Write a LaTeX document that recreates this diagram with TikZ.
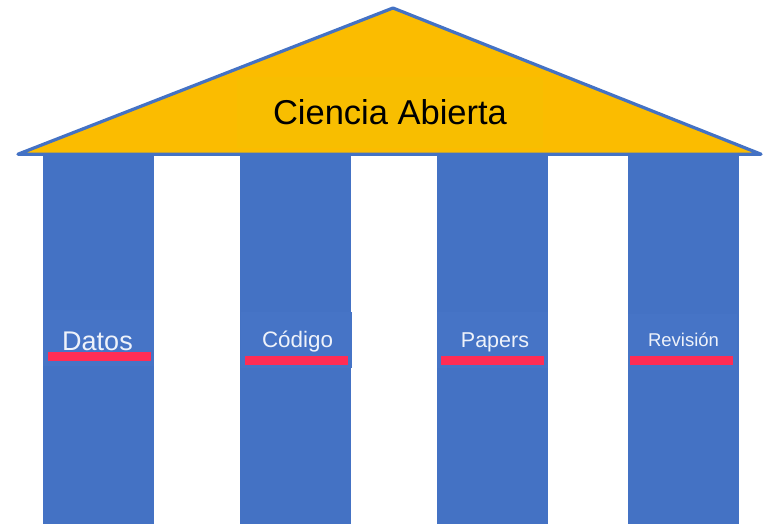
\documentclass[tikz,border=0pt]{standalone}
\usepackage{fontspec}
\setmainfont{Liberation Sans}
\definecolor{colblue}{HTML}{4472C4}
\definecolor{boxblue}{HTML}{4674C6}
\definecolor{roofyellow}{HTML}{FBBC00}
\definecolor{textyellow}{HTML}{F8BE00}
\definecolor{barred}{HTML}{FF2D55}
\definecolor{labwhite}{HTML}{EEF2FA}
\begin{document}
\begin{tikzpicture}[x=1pt,y=-1pt,
  column/.style={fill=colblue,inner sep=0pt,outer sep=0pt,minimum width=111pt,minimum height=368pt},
  labbox/.style={fill=boxblue,inner sep=0pt,outer sep=0pt,minimum width=111pt,minimum height=56pt},
  redbar/.style={fill=barred,inner sep=0pt,outer sep=0pt,minimum width=103pt,minimum height=9.5pt},
  lab/.style={text=labwhite,anchor=base,inner sep=0pt}]
\useasboundingbox (0,0) rectangle (763,524);
% columns
\node[column] (c1) at (98.5,340) {};
\node[column] (c2) at (295.5,340) {};
\node[column] (c3) at (492.5,340) {};
\node[column] (c4) at (683.5,340) {};
% label boxes
\node[labbox] (b1) at (98.5,338) {};
\node[labbox] (b2) at (296,340) {};
\node[labbox] (b3) at (492.5,340) {};
\node[labbox,minimum width=109pt] (b4) at (682.5,342) {};
% red bars
\node[redbar] (r1) at (99.5,356.5) {};
\node[redbar] (r2) at (296,360.5) {};
\node[redbar] (r3) at (492.5,360.5) {};
\node[redbar] (r4) at (681.5,360.5) {};
% labels
\node[lab,font=\fontsize{27}{30}\selectfont] (t1) at (97.5,350) {Datos};
\node[lab,font=\fontsize{22.4}{26}\selectfont] (t2) at (297.5,347) {Código};
\node[lab,font=\fontsize{21.5}{25}\selectfont] (t3) at (495,347) {Papers};
\node[lab,font=\fontsize{18.5}{22}\selectfont] (t4) at (683.5,346) {Revisión};
% roof
\draw[line width=3.2pt,draw=colblue,fill=roofyellow,line join=round] (18,154.2) -- (393,8) -- (761,154.2) -- cycle;
\fill[textyellow] (237,77) rectangle (543,148);
\node[anchor=base,inner sep=0pt,text=black,font=\fontsize{34.5}{40}\selectfont] (title) at (390,125) {Ciencia Abierta};
\end{tikzpicture}
\end{document}
